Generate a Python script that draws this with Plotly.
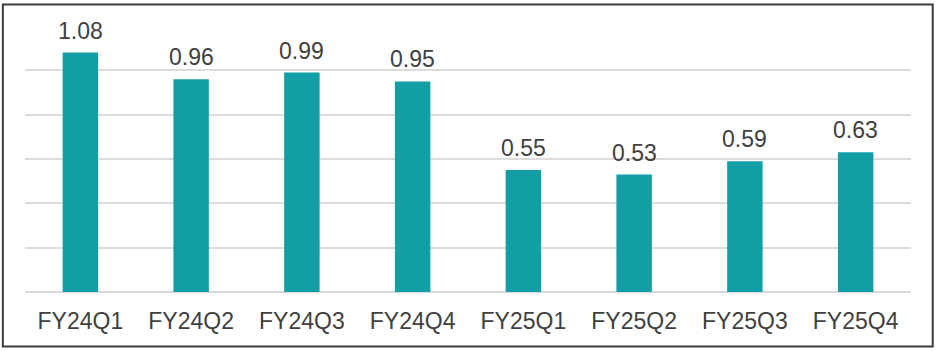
import plotly.graph_objects as go

categories = ["FY24Q1", "FY24Q2", "FY24Q3", "FY24Q4", "FY25Q1", "FY25Q2", "FY25Q3", "FY25Q4"]
values = [1.08, 0.96, 0.99, 0.95, 0.55, 0.53, 0.59, 0.63]
labels = ["1.08", "0.96", "0.99", "0.95", "0.55", "0.53", "0.59", "0.63"]

BAR = "#119EA5"
TXT = "#404040"
FONT = "Liberation Sans, Arial, sans-serif"

fig = go.Figure()
fig.add_trace(go.Bar(x=categories, y=values, marker=dict(color=BAR, line=dict(width=0)),
                     hoverinfo="skip"))

for c, v, t in zip(categories, values, labels):
    fig.add_annotation(x=c, y=v, text=t, showarrow=False, yanchor="bottom", yshift=7,
                       font=dict(family=FONT, size=23, color=TXT))

fig.update_layout(
    width=936, height=351,
    margin=dict(l=25, r=25, t=26, b=59),
    paper_bgcolor="white", plot_bgcolor="white",
    bargap=0.68, showlegend=False,
    font=dict(family=FONT, size=23, color=TXT),
    xaxis=dict(showgrid=False, showline=False, ticks="", tickfont=dict(size=23, color=TXT),
               ticklabelstandoff=13),
    yaxis=dict(range=[0, 1.2], dtick=0.2, showgrid=True, gridcolor="#DCDCDC", gridwidth=1.5,
               showticklabels=False, zeroline=True, zerolinecolor="#D9D9D9", zerolinewidth=1.5,
               showline=False, ticks=""),
)

fig.add_shape(type="rect", xref="paper", yref="paper", x0=-0.025, x1=1.0245, y0=-0.205, y1=1.081,
              line=dict(color="#3A3A3A", width=2), fillcolor="rgba(0,0,0,0)", layer="above")

fig.write_html("out.html")
